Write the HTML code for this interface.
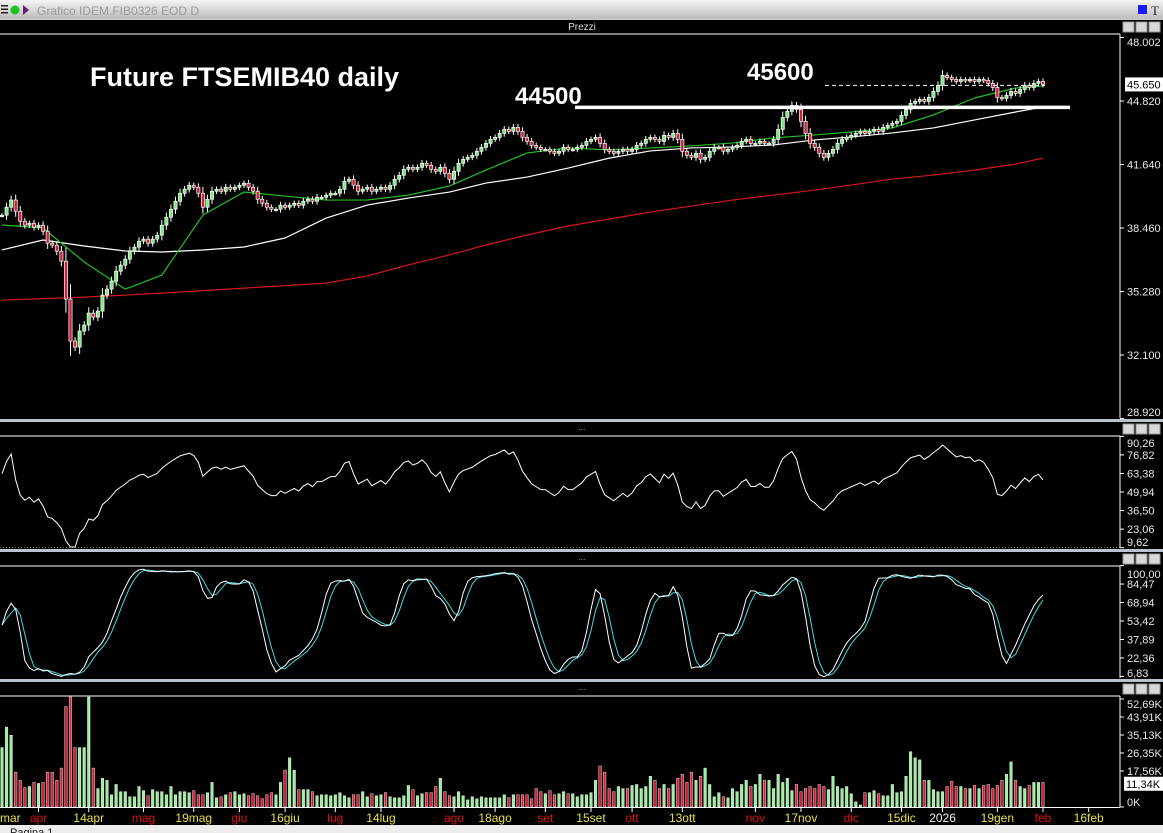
<!DOCTYPE html>
<html><head><meta charset="utf-8">
<style>
body{margin:0;background:#000;width:1163px;height:833px;overflow:hidden;font-family:"Liberation Sans",sans-serif}
svg{display:block}
</style></head>
<body>
<svg id="chart" width="1163" height="833" viewBox="0 0 1163 833">
<defs>
<linearGradient id="tb" x1="0" y1="0" x2="0" y2="1"><stop offset="0" stop-color="#f4f4f4"/><stop offset="1" stop-color="#bdbdbd"/></linearGradient>
</defs>
<rect x="0" y="0" width="1163" height="833" fill="#000"/>
<g>
<rect x="0" y="0" width="1163" height="19" fill="url(#tb)"/>
<rect x="1" y="5" width="7" height="1.5" fill="#222"/><rect x="1" y="8.5" width="7" height="1.5" fill="#222"/><rect x="1" y="12" width="7" height="1.5" fill="#222"/>
<circle cx="15" cy="10" r="4.5" fill="#1ec41e"/>
<path d="M23 5 L29 10 L23 15 Z" fill="#6a1b7a"/>
<text x="37" y="15" font-size="12" fill="#9a9a9a">Grafico IDEM.FIB0326 EOD D</text>
<rect x="1138" y="5" width="9" height="9" fill="#1a1aff"/>
<text x="1151" y="15" font-size="13" font-family="Liberation Serif" fill="#222">T</text>
</g>
<line x1="0" y1="19.5" x2="1163" y2="19.5" stroke="#ccc"/>
<text x="582" y="30" font-size="10" fill="#ddd" text-anchor="middle">Prezzi</text>
<line x1="0" y1="34" x2="1120" y2="34" stroke="#fff"/>
<g id="panels"></g>
<g id="price"></g><g id="rsi"></g><g id="stoch"></g><g id="vol"></g><g id="xaxis"></g>
<g>
<text x="90" y="86" font-size="27" font-weight="bold" fill="#fff">Future FTSEMIB40 daily</text>
<text x="515" y="104" font-size="24" font-weight="bold" fill="#fff">44500</text>
<text x="747" y="80" font-size="24" font-weight="bold" fill="#fff">45600</text>
</g>
<rect x="0" y="825" width="1163" height="8" fill="#ececec"/>
<text x="10" y="836" font-size="11" fill="#222">Pagina 1</text>
</svg>
<script>
const closes=[39100,39500,39860,39300,38800,38600,38700,38500,38600,38300,
37700,37600,37300,36800,34900,32800,32500,33300,33600,34200,
34000,34300,35100,35400,35800,36300,36600,36900,37300,37500,
37800,37900,37700,37900,38100,38600,39000,39400,39800,40200,
40400,40600,40500,40200,39500,39900,40300,40400,40300,40500,
40400,40500,40600,40700,40500,40300,39900,39700,39500,39400,
39400,39600,39500,39600,39700,39600,39800,39900,39800,40000,
40000,40100,40200,40200,40400,40800,40900,40600,40300,40400,
40500,40300,40400,40500,40400,40600,40900,41100,41400,41500,
41400,41500,41700,41600,41400,41300,41500,41200,40900,41300,
41700,41900,42000,42100,42300,42500,42700,42900,43000,43200,
43400,43300,43500,43300,43000,42800,42600,42500,42400,42400,
42300,42200,42300,42500,42400,42400,42500,42600,42800,42900,
43000,42700,42400,42300,42200,42300,42400,42300,42400,42600,
42700,42900,43000,42900,42800,43100,43000,43200,42900,42300,
42100,42000,42200,41900,42000,42300,42500,42500,42300,42400,
42500,42600,42800,42900,42700,42700,42800,42700,42700,42900,
43400,44000,44300,44600,44400,43800,43200,42700,42500,42200,
42000,42200,42400,42700,42900,43000,43100,43200,43300,43200,
43300,43400,43300,43500,43600,43700,43800,44100,44400,44700,
44800,44900,44800,45000,45300,45600,46100,46000,45900,45800,
45900,45850,45900,45800,45900,45850,45700,45500,45000,44950,
45100,45300,45200,45400,45600,45500,45700,45800,45650];
const volumesK=[29,39,35,17,13,9.5,10,12,11.5,12,17,17,13,19,49,54,29,29,29,56,
19,9,14,13,6,11,7.5,7.5,5,5,10,8,5.5,8.5,7.5,7.5,6,10,6,7.5,
7.5,7,8,6,6,7,12,4.5,5,6,7,7.5,6,6.5,5.5,6.5,5.5,4,6,7,
6,12,18,24,18,8.5,8.5,8.5,7.5,5.5,6,6,5.5,6,7,5.5,4.5,6,6,7.5,
5,6.5,5.5,6,7,5,4.5,4.5,5.5,10.5,8.5,5.5,6.5,7,7,10,14,7.5,5.5,5,
7.5,5.5,3.5,5,4,5,4.5,4.5,4.5,4.5,6,4.5,6,6,6,6,4,9,7.5,6.5,
8,6,6.5,7.5,6.5,6.5,5,6,6,7,13,
20,17,9,7.5,10,9,9,10.5,11,9,10,15,13,9,11,9,11,14,16,12,
17,13,15,19,11,5,7,5,4.5,9,7.5,11,13,10,11,16,13,13,9,16,
12,14,8,11,7.5,9,10,9,11,10,8.5,15,10,9,10,6.5,2.5,1,7,7,8,6.5,5.5,5.5,
11,7,7.5,15,27,24,23,13,13,8.5,7.5,7.5,10,12.5,10,10,9,9,10.5,9,
10.5,11,9,10.5,13,16,22,13,10,9,10.5,12,12,12];
const maIdx=[0,9,18,27,35,44,53,62,71,80,89,98,106,115,124,133,142,151,160,169,178,186,195,204,213,222,228];
const ma20=[38610,38460,36760,35400,36100,39110,40260,40060,39860,39860,40110,40560,41360,42220,42470,42370,42470,42570,42720,42970,43120,43270,43470,44120,44970,45470,45570];
const ma50=[37360,37860,37560,37310,37260,37360,37510,37960,38960,39610,39960,40260,40710,41010,41460,41960,42320,42470,42520,42620,42870,43020,43220,43470,43870,44270,44520];
const ma200=[34850,34925,35000,35100,35200,35325,35450,35575,35700,36060,36610,37110,37610,38110,38560,38910,39260,39560,39860,40110,40360,40610,40910,41110,41360,41660,41960];
const priceTicks=[48002,44820,41640,38460,35280,32100,28920];
const priceTickLabels=["48.002","44.820","41.640","38.460","35.280","32.100","28.920"];
const lastPrice=45650, lastPriceLabel="45.650";
const supportLevel=44500, resistLevel=45600;
const rsiTicks=[90.26,76.82,63.38,49.94,36.50,23.06,9.62];
const rsiTickLabels=["90,26","76,82","63,38","49,94","36,50","23,06","9,62"];
const stochTicks=[100,84.47,68.94,53.42,37.89,22.36,6.83];
const stochTickLabels=["100,00","84,47","68,94","53,42","37,89","22,36","6,83"];
const volTicks=[52.69,43.91,35.13,26.35,17.56,0];
const volTickLabels=["52,69K","43,91K","35,13K","26,35K","17,56K","0K"];
const lastVol=11.34, lastVolLabel="11,34K";
const dateLabels=["mar","apr","14apr","mag","19mag","giu","16giu","lug","14lug","ago","18ago","set","15set","ott","13ott","nov","17nov","dic","15dic","2026","19gen","feb","16feb"];
const dateBars=[-1,8,19,31,42,52,62,73,83,99,108,119,129,138,149,165,175,186,197,206,218,228,238];
const dateKinds=["d","m","d","m","d","m","d","m","d","m","d","m","d","m","d","m","d","m","d","y","d","m","d"];
const rsiSeedGain=60, rsiSeedLoss=35;

const NS="http://www.w3.org/2000/svg";
function mk(tag,attrs,parent){const e=document.createElementNS(NS,tag);for(const k in attrs)e.setAttribute(k,attrs[k]);parent.appendChild(e);return e;}
const N=closes.length, X0=2, X1=1043;
const xOf=i=>X0+i*(X1-X0)/(N-1);
const yP=v=>101-(v-44820)*0.01997;
const yR=r=>492-(r-49.94)*1.38;
const yS=s=>621-(s-53.42)*1.19;
const yV=k=>Math.max(697,807-k*2.05);
const AX=1120;

const pan=document.getElementById('panels');
[[419,436,"rsi"],[549,566,"stoch"],[679,696,"volume"]].forEach(([y0,y1,n])=>{
  const g=mk('g',{},pan);
  
  
  mk('rect',{x:0,y:y0,width:1163,height:3,fill:'#b8c4d0'},g);
  mk('text',{x:582,y:y0+11,'font-size':8,fill:'#ccc','text-anchor':'middle'},g).textContent='...';
  mk('line',{x1:0,y1:y1,x2:AX,y2:y1,stroke:'#fff'},g);
  for(let b=0;b<3;b++){const r=mk('rect',{x:1123+b*13,y:y0+5,width:11,height:10,fill:'#d8d8d8',stroke:'#999'},g);
    
    }
});
{const g=mk('g',{},pan);for(let b=0;b<3;b++){const r=mk('rect',{x:1123+b*13,y:22,width:11,height:10,fill:'#d8d8d8',stroke:'#999'},g);
 
 }}
mk('line',{x1:0,y1:547.5,x2:AX,y2:547.5,stroke:'#888','stroke-dasharray':'1,2'},pan);
[[34,418],[436,548],[566,678],[696,807]].forEach(([a,b])=>mk('line',{x1:AX,y1:a,x2:AX,y2:b,stroke:'#fff'},pan));

const pg=document.getElementById('price');
function maLine(arr,col,name){const p=mk('polyline',{points:arr.map((v,k)=>xOf(maIdx[k])+','+yP(v)).join(' '),fill:'none',stroke:col,'stroke-width':1.2,'stroke-linejoin':'round'},pg);
 
 }
maLine(ma200,'#d01818','ma200-line');
maLine(ma50,'#ffffff','ma50-line');
maLine(ma20,'#22c022','ma20-line');
for(let i=0;i<N;i++){
  const o=i?closes[i-1]:closes[i], c=closes[i], up=c>=o;
  const w=110+Math.abs(c-o)*0.3;
  const hi=Math.max(o,c)+w, lo=Math.min(o,c)-w, x=xOf(i);
  const g=mk('g',{},pg);
  
  
  mk('line',{x1:x,y1:yP(hi),x2:x,y2:yP(lo),stroke:'#fff','stroke-width':1},g);
  const t=yP(Math.max(o,c)), h=Math.max(1.5,yP(Math.min(o,c))-t);
  mk('rect',{x:x-1.6,y:t,width:3.2,height:h,fill:up?'#7fe87f':'#d0203a',stroke:'#fff','stroke-width':0.7},g);
}
{const l=mk('line',{x1:575,y1:yP(supportLevel),x2:1070,y2:yP(supportLevel),stroke:'#fff','stroke-width':3.5},pg);
 
 
 const d=mk('line',{x1:825,y1:yP(resistLevel),x2:1045,y2:yP(resistLevel),stroke:'#fff','stroke-width':1,'stroke-dasharray':'4,3'},pg);
 
 }
function yAxis(g,ticks,labels,yf,name,clampTop,clampBot){
  ticks.forEach((t,k)=>{let y=yf(t);mk('line',{x1:AX,y1:y,x2:AX+4,y2:y,stroke:'#fff'},g);
    const ty=Math.min(clampBot,Math.max(clampTop,y+4));
    const tx=mk('text',{x:1127,y:ty,'font-size':11,fill:'#e8e8e8'},g);tx.textContent=labels[k];
    
    });
}
yAxis(pg,priceTicks,priceTickLabels,yP,'price',46,416);
{const y=yP(lastPrice);mk('rect',{x:1125,y:y-7,width:38,height:14,fill:'#fff'},pg);
 const t=mk('text',{x:1127,y:y+4,'font-size':11,fill:'#000'},pg);t.textContent=lastPriceLabel;
 
 }

const rsi=[];{let ag=rsiSeedGain,al=rsiSeedLoss;const P=14;
 for(let i=0;i<N;i++){if(i>0){const d=closes[i]-closes[i-1];ag=(ag*(P-1)+Math.max(d,0))/P;al=(al*(P-1)+Math.max(-d,0))/P;}
  rsi.push(al===0?100:100-100/(1+ag/al));}}
const rg=document.getElementById('rsi');
{const pts=[];for(let i=0;i<N;i++)pts.push(xOf(i)+','+Math.max(437,Math.min(547,yR(rsi[i]))));
 const p=mk('polyline',{points:pts.join(' '),fill:'none',stroke:'#fff','stroke-width':1},rg);
 
 }
yAxis(rg,rsiTicks,rsiTickLabels,yR,'rsi',447,546);

const raw=[];for(let i=0;i<N;i++){let hh=-1e9,ll=1e9;for(let j=Math.max(0,i-13);j<=i;j++){const o=j?closes[j-1]:closes[j];const w=110+Math.abs(closes[j]-o)*0.3;hh=Math.max(hh,Math.max(o,closes[j])+w);ll=Math.min(ll,Math.min(o,closes[j])-w);}raw.push(100*(closes[i]-ll)/(hh-ll));}
const sma3=a=>a.map((v,i)=>{let s=0,n=0;for(let j=Math.max(0,i-2);j<=i;j++){s+=a[j];n++;}return s/n;});
const kL=sma3(raw), dL=sma3(kL);
const sg=document.getElementById('stoch');
[[dL,'#40d8e0','stoch-d-line'],[kL,'#ffffff','stoch-k-line']].forEach(([a,c,n])=>{
 const p=mk('polyline',{points:a.map((v,i)=>xOf(i)+','+yS(v)).join(' '),fill:'none',stroke:c,'stroke-width':1},sg);
 
 });
yAxis(sg,stochTicks,stochTickLabels,yS,'stoch',578,677);

const vg=document.getElementById('vol');
for(let i=0;i<Math.min(N,volumesK.length);i++){const up=i===0||closes[i]>=closes[i-1];const y=yV(volumesK[i]);
 const r=mk('rect',{x:xOf(i)-1.3,y:y,width:2.6,height:807-y,fill:up?'#9af09a':'#d0203a',stroke:'#fff','stroke-width':0.4},vg);
 
 }
mk('line',{x1:0,y1:807.5,x2:AX,y2:807.5,stroke:'#fff'},vg);
yAxis(vg,volTicks,volTickLabels,k=>807-k*2.05,'volume',708,806);
{const y=807-lastVol*2.05;mk('rect',{x:1124,y:y-7,width:39,height:14,fill:'#fff'},vg);
 const t=mk('text',{x:1126,y:y+4,'font-size':11,fill:'#000'},vg);t.textContent=lastVolLabel;
 
 }

const xg=document.getElementById('xaxis');
dateLabels.forEach((lab,k)=>{const x=X0+dateBars[k]*(X1-X0)/(N-1);
 mk('line',{x1:x,y1:808,x2:x,y2:812,stroke:'#fff'},xg);
 const t=mk('text',{x:x,y:822,'font-size':12,'text-anchor':k===0?'start':'middle',fill:dateKinds[k]==='m'?'#e01010':dateKinds[k]==='y'?'#f0f0f0':'#e8e040'},xg);
 if(k===0)t.setAttribute('x',0);
 t.textContent=lab;
 
 });
</script>
</body></html>
